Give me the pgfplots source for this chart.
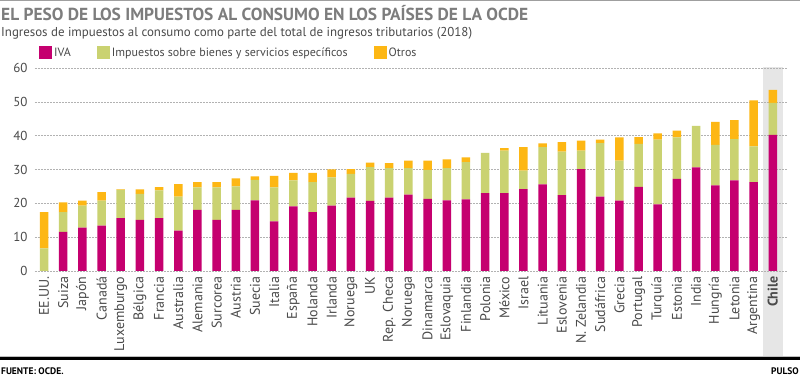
\documentclass[border=0pt]{standalone}
\usepackage{pgfplots}
\usepackage{pgfplotstable}
\pgfplotsset{compat=1.18}
\usepackage{fontspec}
\setmainfont{PT Sans}
\definecolor{iva}{HTML}{C5006F}
\definecolor{esp}{HTML}{CAD271}
\definecolor{otr}{HTML}{FDB714}
\definecolor{titgray}{HTML}{7D7D7D}
\definecolor{txtgray}{HTML}{4A4A4A}
\definecolor{chilebg}{HTML}{E6E6E6}
\pgfplotstableread{
x iva esp otr
0 0 6.7 10.7
1 11.6 5.8 2.9
2 12.8 6.5 1.5
3 13.4 7.4 2.5
4 15.6 8.4 0.1
5 15.1 7.7 1.3
6 15.6 8.2 1.0
7 11.9 10.1 3.7
8 18.1 6.6 1.6
9 15.1 9.6 1.6
10 18.1 6.9 2.4
11 20.9 6.0 1.1
12 14.7 10.0 3.4
13 19.1 7.7 2.2
14 17.4 8.9 2.7
15 19.3 8.4 2.3
16 21.7 7.0 1.4
17 20.7 10.0 1.3
18 21.7 8.7 1.5
19 22.6 7.8 2.2
20 21.3 8.6 2.7
21 20.9 9.5 2.6
22 21.2 11.0 1.4
23 23.0 11.9 0
24 23.0 12.6 0.7
25 24.2 5.5 6.9
26 25.6 11.0 1.1
27 22.4 12.9 2.8
28 30.1 5.5 2.9
29 22.0 15.8 1.0
30 20.8 11.8 6.9
31 24.9 12.7 2.0
32 19.7 19.1 1.9
33 27.2 12.3 2.0
34 30.6 12.3 0
35 25.3 12.0 6.8
36 26.8 12.2 5.6
37 26.3 10.5 13.6
38 40.2 9.5 3.8
}\datatable
\begin{document}
\begin{tikzpicture}[x=1pt,y=1pt]
\useasboundingbox (0,0) rectangle (800,377);
\fill[white] (0,0) rectangle (800,377);
\draw[gray!75, line width=1.5pt] (0,376.3) -- (800,376.3);
\node[anchor=base west, font=\fontsize{17.4}{20}\selectfont\bfseries, text=titgray, inner sep=0] at (1,356) {EL PESO DE LOS IMPUESTOS AL CONSUMO EN LOS PAÍSES DE LA OCDE};
\node[anchor=base west, font=\fontsize{12.9}{15}\selectfont, text=txtgray, inner sep=0] at (1,340) {Ingresos de impuestos al consumo como parte del total de ingresos tributarios (2018)};
\fill[chilebg] (763,20) rectangle (783,310);
\draw[black, line width=2.2pt] (0,18.5) -- (800,18.5);
\draw[gray!50, line width=0.6pt] (0,21) -- (800,21);
\node[anchor=base west, font=\fontsize{9.5}{11}\selectfont\bfseries, text=black, inner sep=0] at (1,2.5) {FUENTE: OCDE.};
\node[anchor=base east, font=\fontsize{9.5}{11}\selectfont\bfseries, text=black, inner sep=0] at (799,2.5) {PULSO};
\begin{axis}[
  at={(35pt,106pt)}, anchor=south west,
  scale only axis, width=752pt, height=203pt,
  xmin=-0.47, xmax=38.74, ymin=0, ymax=60,
  ybar stacked, bar width=8.5pt,
  axis line style={draw=none},
  major tick length=0pt,
  ytick={0,10,...,60},
  ymajorgrids,
  grid style={dash pattern=on 2pt off 1pt, gray!60, line width=0.6pt},
  /pgf/number format/assume math mode=true,
  yticklabel style={font=\fontsize{13}{15}\selectfont, text=txtgray, xshift=-4pt},
  xtick={0,...,38},
  xticklabels={EE.UU., Suiza, Japón, Canadá, Luxemburgo, Bélgica, Francia, Australia, Alemania, Surcorea, Austria, Suecia, Italia, España, Holanda, Irlanda, Noruega, UK, Rep. Checa, Noruega, Dinamarca, Eslovaquia, Finlandia, Polonia, México, Israel, Lituania, Eslovenia, N. Zelandia, Sudáfrica, Grecia, Portugal, Turquía, Estonia, India, Hungría, Letonia, Argentina, \textbf{Chile}},
  xticklabel style={rotate=90, anchor=east, font=\fontsize{14}{16}\selectfont, text=txtgray, yshift=0pt, xshift=-2pt},
  legend columns=3,
  legend style={at={(0,1)}, anchor=south west, xshift=1pt, yshift=6pt, draw=none, fill=none,
    font=\fontsize{12}{14}\selectfont, text=txtgray,
    /tikz/every even column/.append style={column sep=24pt}},
  legend image code/.code={\fill[#1] (0pt,-6.5pt) rectangle (13pt,6.5pt);},
  legend cell align=left,
]
\addplot[fill=iva, draw=none] table[x=x, y=iva] {\datatable};
\addplot[fill=esp, draw=none] table[x=x, y=esp] {\datatable};
\addplot[fill=otr, draw=none] table[x=x, y=otr] {\datatable};
\legend{IVA, Impuestos sobre bienes y servicios específicos, Otros}
\end{axis}
\end{tikzpicture}
\end{document}
